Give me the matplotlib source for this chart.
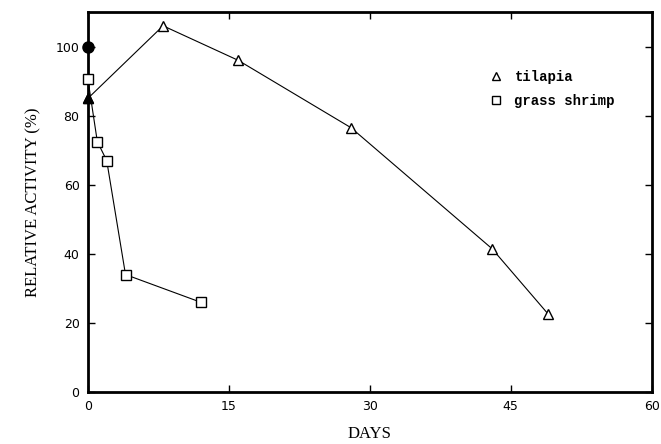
import matplotlib.pyplot as plt

# tilapia
tilapia_days = [0, 8, 16, 28, 43, 49]
tilapia_act = [85, 106, 96, 76.5, 41.5, 22.5]
# grass shrimp
shrimp_days = [0, 1, 2, 4, 12]
shrimp_act = [90.5, 72.5, 67, 34, 26]
# control points at day 0
ctrl_circle = (0, 100)
ctrl_tri = (0, 85)

plt.rcParams['font.family'] = ['Liberation Serif', 'DejaVu Serif']

fig = plt.figure(figsize=(6.61, 4.44), dpi=100)
ax = fig.add_axes([0.133, 0.117, 0.853, 0.856])

ax.plot(tilapia_days, tilapia_act, color='black', lw=0.8, marker='^', ms=7,
        mfc='white', mec='black', mew=1.0, label='tilapia', clip_on=False, zorder=3)
ax.plot(shrimp_days, shrimp_act, color='black', lw=0.8, marker='s', ms=7,
        mfc='white', mec='black', mew=1.0, label='grass shrimp', clip_on=False, zorder=3)
ax.plot(*ctrl_circle, 'o', color='black', ms=8, clip_on=False, zorder=4)
ax.plot(*ctrl_tri, '^', color='black', ms=7, clip_on=False, zorder=4)

ax.set_xlim(0, 60)
ax.set_ylim(0, 110)
ax.set_xticks([0, 15, 30, 45, 60])
ax.set_yticks([0, 20, 40, 60, 80, 100])
ax.tick_params(direction='in', length=5, width=1, top=True, right=True,
               labelsize=9, pad=6)
for lab in ax.get_xticklabels() + ax.get_yticklabels():
    lab.set_family('DejaVu Sans')
for s in ax.spines.values():
    s.set_linewidth(2)

ax.set_xlabel('DAYS', fontsize=12, labelpad=9)
ax.set_ylabel('RELATIVE ACTIVITY (%)', fontsize=12, labelpad=10)

leg = ax.legend(loc='upper left', bbox_to_anchor=(0.69, 0.88), frameon=False,
                prop={'family': 'Liberation Mono', 'size': 10, 'weight': 'bold'},
                handlelength=1.0, handletextpad=0.8, labelspacing=0.7,
                markerscale=0.85)
for h in leg.legend_handles:
    h.set_linestyle('none')

fig.savefig('out.png', dpi=100)
